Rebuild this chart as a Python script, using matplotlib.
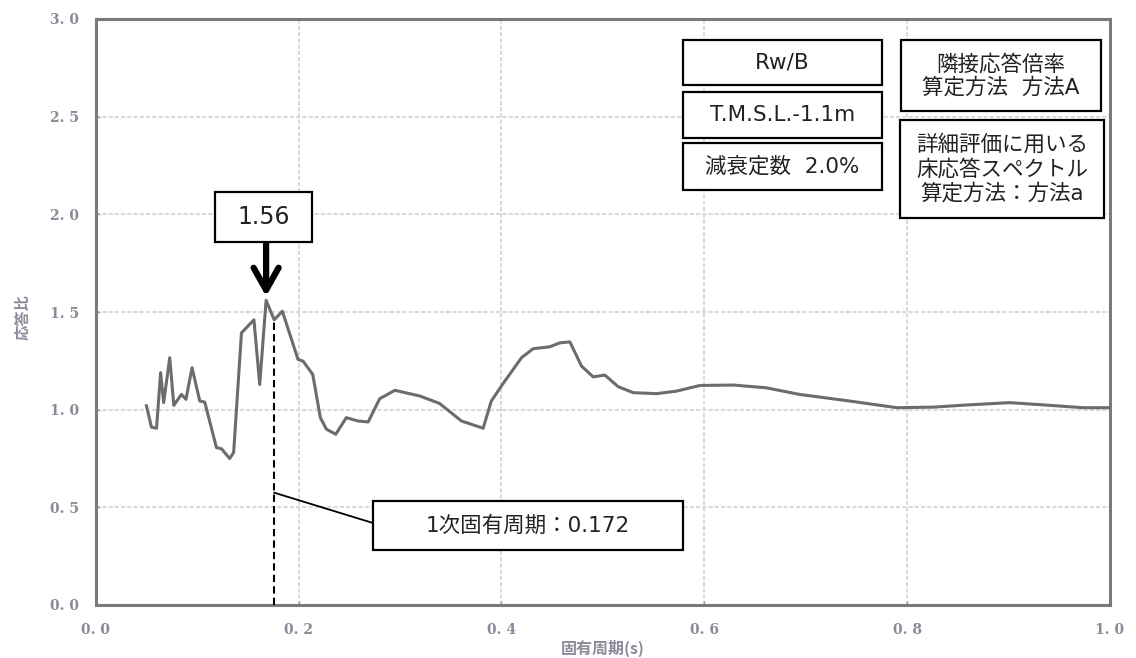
import matplotlib
matplotlib.use("Agg")
import matplotlib.pyplot as plt
from matplotlib.patches import Rectangle

# ---- data ----
period = [0.050, 0.055, 0.060, 0.064, 0.067, 0.073, 0.077, 0.0845, 0.089, 0.095,
          0.1026, 0.1075, 0.119, 0.124, 0.132, 0.136, 0.1437, 0.156, 0.1617, 0.168,
          0.176, 0.184, 0.1995, 0.2045, 0.214, 0.2215, 0.2275, 0.2367, 0.247, 0.2587,
          0.2686, 0.280, 0.295, 0.3195, 0.339, 0.3606, 0.382, 0.390, 0.4017, 0.4198,
          0.4313, 0.4477, 0.4576, 0.4675, 0.479, 0.4904, 0.502, 0.515, 0.530, 0.553,
          0.5727, 0.5957, 0.6285, 0.661, 0.694, 0.7436, 0.79, 0.826, 0.8587, 0.901,
          0.941, 0.9737, 1.0]
ratio = [1.02, 0.91, 0.905, 1.19, 1.036, 1.266, 1.022, 1.078, 1.053, 1.215,
         1.044, 1.039, 0.806, 0.80, 0.75, 0.78, 1.393, 1.46, 1.129, 1.56,
         1.46, 1.504, 1.257, 1.248, 1.18, 0.959, 0.90, 0.874, 0.959, 0.942,
         0.937, 1.056, 1.099, 1.07, 1.032, 0.942, 0.905, 1.044, 1.134, 1.266,
         1.312, 1.322, 1.342, 1.347, 1.223, 1.168, 1.177, 1.118, 1.087, 1.082,
         1.095, 1.124, 1.126, 1.112, 1.078, 1.044, 1.010, 1.013, 1.024, 1.036,
         1.022, 1.010, 1.010]
x_ticks = [0.0, 0.2, 0.4, 0.6, 0.8, 1.0]
x_ticklabels = ["0. 0", "0. 2", "0. 4", "0. 6", "0. 8", "1. 0"]
y_ticks = [0.0, 0.5, 1.0, 1.5, 2.0, 2.5, 3.0]
y_ticklabels = ["0. 0", "0. 5", "1. 0", "1. 5", "2. 0", "2. 5", "3. 0"]
peak_x, peak_y = 0.168, 1.56
peak_label = "1.56"
natural_period_x = 0.176
natural_period_label = "1次固有周期：0.172"
xlabel = "固有周期(s)"
ylabel = "応答比"
info_left = ["Rw/B", "T.M.S.L.-1.1m", "減衰定数  2.0%"]
info_right = ["隣接応答倍率\n算定方法  方法A", "詳細評価に用いる\n床応答スペクトル\n算定方法：方法a"]

W, H = 1136, 658
CJK = ["Noto Sans CJK JP", "DejaVu Sans"]
BOXFONT = ["DejaVu Sans", "Noto Sans CJK JP"]

fig = plt.figure(figsize=(W / 100, H / 100), dpi=100)
ax = fig.add_axes([95.7 / W, 1 - 605 / H, (1110 - 95.7) / W, (605 - 19) / H])

ax.plot(period, ratio, color="#6c6c6c", lw=2.2, zorder=3, solid_joinstyle="round")

ax.set_xlim(0, 1.0)
ax.set_ylim(0, 3.0)
ax.set_xticks(x_ticks)
ax.set_xticklabels(x_ticklabels)
ax.set_yticks(y_ticks)
ax.set_yticklabels(y_ticklabels)
ax.tick_params(direction="in", length=3, width=1, color="#9a9a9a",
               labelsize=10, labelcolor="#8a8a9a")
ax.tick_params(axis="y", pad=12)
ax.tick_params(axis="x", pad=13)
for lab in ax.get_xticklabels() + ax.get_yticklabels():
    lab.set_family("DejaVu Serif")
    lab.set_fontweight("bold")
ax.grid(True, color="#dadada", lw=1.5, ls=(0, (2, 1)), zorder=0)
for sp in ax.spines.values():
    sp.set_color("#7a7a7a")
    sp.set_linewidth(2.2)

fig.text(603 / W, 1 - 648 / H, xlabel, ha="center", va="center",
         fontsize=11.5, color="#8a8a9a", family=CJK, fontweight="bold")
fig.text(22 / W, 1 - 317 / H, ylabel, ha="center", va="center", rotation=90,
         fontsize=11, color="#8a8a9a", family=CJK, fontweight="bold")


def px_box(x0, y0, x1, y1, text, fs=15.5, lw=1.6, ls=1.1):
    fx0, fx1 = x0 / W, x1 / W
    fy0, fy1 = 1 - y1 / H, 1 - y0 / H
    fig.add_artist(Rectangle((fx0, fy0), fx1 - fx0, fy1 - fy0, transform=fig.transFigure,
                             facecolor="white", edgecolor="black", lw=lw, zorder=10))
    fig.text((fx0 + fx1) / 2, (fy0 + fy1) / 2, text, ha="center", va="center",
             fontsize=fs, family=BOXFONT, color="#222222", linespacing=ls, zorder=11)


px_box(683, 40, 882, 85, info_left[0])
px_box(683, 92, 882, 138, info_left[1])
px_box(683, 143, 882, 190, info_left[2])
px_box(901, 40, 1101, 111, info_right[0], ls=1.15)
px_box(900, 120, 1104, 218, info_right[1], ls=1.22)
px_box(215, 192, 312, 242, peak_label, fs=17)
px_box(373, 501, 683, 550, natural_period_label, fs=15.5)

# arrow from peak label box to the peak
box_bottom_y = (605 - 243) / 195.33
ax.annotate("", xy=(peak_x, peak_y + 0.02), xytext=(peak_x, box_bottom_y),
            arrowprops=dict(arrowstyle="->,head_length=0.8,head_width=0.45",
                            lw=4.5, color="black", mutation_scale=20,
                            shrinkA=0, shrinkB=0), zorder=12)

# dashed line at natural period
ax.plot([natural_period_x, natural_period_x], [0, 1.46], color="black", lw=1.5,
        ls=(0, (3.5, 2)), zorder=4)

# leader line to label box
leader_start_y = (605 - 492.7) / 195.33
fig_pt = ax.transData.transform((natural_period_x, leader_start_y))
fig.add_artist(plt.Line2D([fig_pt[0] / W, 373 / W], [fig_pt[1] / H, 1 - 523 / H],
                          transform=fig.transFigure, color="black", lw=1.3, zorder=9))

fig.savefig("out.png", dpi=100)
